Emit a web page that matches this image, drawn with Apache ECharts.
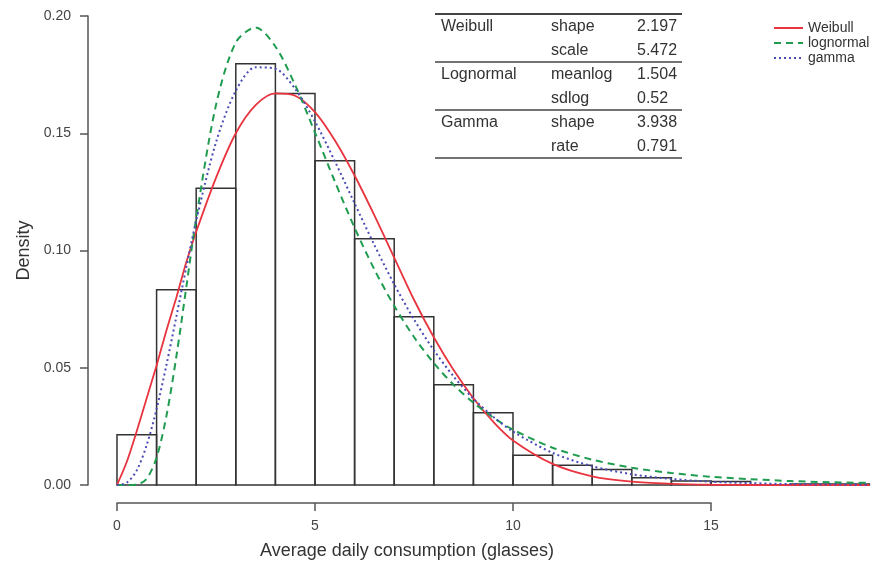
<!DOCTYPE html>
<html>
<head>
<meta charset="utf-8">
<title>Average daily consumption</title>
<script src="https://cdn.jsdelivr.net/npm/echarts@6.0.0/dist/echarts.min.js"></script>
<style>
    html, body { margin: 0; padding: 0; background: #fff; }
    #main { width: 871px; height: 565px; }
</style>
</head>
<body>
<div id="main"></div>
<script>
// histogram bins: [from, to, density]
var bins = [
    [0, 1, 0.0214], [1, 2, 0.0833], [2, 3, 0.1265], [3, 4, 0.1796],
    [4, 5, 0.1670], [5, 6, 0.1383], [6, 7, 0.1050], [7, 8, 0.0718],
    [8, 9, 0.0427], [9, 10, 0.0308], [10, 11, 0.0127], [11, 12, 0.0084],
    [12, 13, 0.0066], [13, 14, 0.0031], [14, 15, 0.0017], [15, 16, 0.0015],
    [16, 17, 0], [17, 18, 0.0004], [18, 19, 0.0004]
];

// fitted curves
var curveX = [0, 0.25, 0.5, 0.75, 1, 1.25, 1.5, 1.75, 2, 2.5, 3, 3.5, 4, 4.5, 5, 5.5, 6, 6.5, 7, 7.5,
    8, 8.5, 9, 9.5, 10, 11, 12, 13, 14, 15, 16, 17, 18, 19];
var weibullY = [0, 0.010, 0.023, 0.037, 0.051, 0.066, 0.080, 0.095, 0.108, 0.131, 0.150, 0.162, 0.167, 0.166,
    0.159, 0.147, 0.132, 0.115, 0.097, 0.079, 0.063, 0.049, 0.037, 0.027, 0.019, 0.009, 0.0037, 0.0014,
    0.0005, 0.0001, 0, 0, 0, 0];
var lognormalY = [0, 0, 0.0002, 0.0027, 0.0117, 0.0296, 0.0549, 0.0843, 0.1137, 0.162, 0.1887, 0.1951, 0.187,
    0.1705, 0.1503, 0.1295, 0.1097, 0.0919, 0.0764, 0.0631, 0.052, 0.0427, 0.0351, 0.0288, 0.0236, 0.0159,
    0.0108, 0.0074, 0.0051, 0.0035, 0.0025, 0.0017, 0.0012, 0.0009];
var gammaY = [0, 0.001, 0.0063, 0.017, 0.0324, 0.0513, 0.0719, 0.0928, 0.1127, 0.1461, 0.1681, 0.1781, 0.1775,
    0.1689, 0.155, 0.1381, 0.1201, 0.1023, 0.0856, 0.0706, 0.0575, 0.0463, 0.0368, 0.0291, 0.0228, 0.0137,
    0.008, 0.0046, 0.0026, 0.0014, 0.0008, 0.0004, 0.0002, 0.0001];

// parameter table
var tableRows = [
    ['Weibull', 'shape', '2.197'],
    ['', 'scale', '5.472'],
    ['Lognormal', 'meanlog', '1.504'],
    ['', 'sdlog', '0.52'],
    ['Gamma', 'shape', '3.938'],
    ['', 'rate', '0.791']
];

var legendNames = ['Weibull', 'lognormal', 'gamma'];

function pairs(xs, ys) {
    var res = [];
    for (var i = 0; i < xs.length; i++) res.push([xs[i], ys[i]]);
    return res;
}

var myChart = echarts.init(document.getElementById('main'), null, { renderer: 'canvas' });

var textColor = '#333';
var axisColor = '#555';
var font = 'Liberation Sans, Arial, sans-serif';

// table drawn as plain graphic text + rules
var graphics = [];
var rowTop = 27, rowStep = 24;
for (var r = 0; r < tableRows.length; r++) {
    var yy = rowTop + r * rowStep;
    graphics.push({ type: 'text', x: 441, y: yy, style: { text: tableRows[r][0], font: '16px ' + font, fill: textColor, textAlign: 'left', textVerticalAlign: 'middle' } });
    graphics.push({ type: 'text', x: 551, y: yy, style: { text: tableRows[r][1], font: '16px ' + font, fill: textColor, textAlign: 'left', textVerticalAlign: 'middle' } });
    graphics.push({ type: 'text', x: 637, y: yy, style: { text: tableRows[r][2], font: '16px ' + font, fill: textColor, textAlign: 'left', textVerticalAlign: 'middle' } });
}
var rules = [14, 62, 110, 158];
for (var k = 0; k < rules.length; k++) {
    graphics.push({ type: 'line', shape: { x1: 435, y1: rules[k], x2: 682, y2: rules[k] }, style: { stroke: '#444', lineWidth: k == 0 ? 2 : 1.5 } });
}
graphics.push({ type: 'text', x: 407, y: 551, style: { text: 'Average daily consumption (glasses)', font: '18px ' + font, fill: textColor, textAlign: 'center', textVerticalAlign: 'middle' } });

var option = {
    backgroundColor: '#fff',
    animation: false,
    textStyle: { fontFamily: font },
    legend: {
        data: legendNames,
        orient: 'vertical',
        left: 773,
        top: 21,
        padding: 0,
        itemWidth: 29,
        itemHeight: 14,
        itemGap: 1,
        itemStyle: { opacity: 0 },
        textStyle: { fontSize: 14, color: textColor }
    },
    grid: [
        { left: 88, right: 0, top: 16, bottom: 80 },
        { left: 117, width: 594, top: 502, height: 1 }
    ],
    xAxis: [
        { type: 'value', gridIndex: 0, min: -0.732, max: 19.04, show: false },
        {
            type: 'value', gridIndex: 1, min: 0, max: 15, interval: 5, position: 'bottom',
            axisLine: { show: true, onZero: false, lineStyle: { color: axisColor, width: 1.5 } },
            axisTick: { show: true, length: 8, lineStyle: { color: axisColor, width: 1.5 } },
            axisLabel: { color: '#444', fontSize: 14, margin: 16 },
            splitLine: { show: false }
        }
    ],
    yAxis: [
        {
            type: 'value', gridIndex: 0, min: 0, max: 0.2, interval: 0.05, position: 'left',
            name: 'Density', nameLocation: 'middle', nameGap: 55, nameRotate: 90, nameMoveOverlap: false,
            nameTextStyle: { fontSize: 18, color: textColor },
            axisLine: { show: true, onZero: false, lineStyle: { color: axisColor, width: 1.5 } },
            axisTick: { show: true, length: 8, lineStyle: { color: axisColor, width: 1.5 } },
            axisLabel: { color: '#444', fontSize: 14, margin: 17, formatter: function (v) { return v.toFixed(2); } },
            splitLine: { show: false }
        },
        { type: 'value', gridIndex: 1, show: false, min: 0, max: 1 }
    ],
    graphic: graphics,
    series: [
        {
            name: 'hist',
            type: 'custom',
            xAxisIndex: 0,
            yAxisIndex: 0,
            data: bins,
            renderItem: function (params, api) {
                var p0 = api.coord([api.value(0), api.value(2)]);
                var p1 = api.coord([api.value(1), 0]);
                return {
                    type: 'rect',
                    shape: { x: p0[0], y: p0[1], width: p1[0] - p0[0], height: p1[1] - p0[1] },
                    style: { fill: 'none', stroke: '#333', lineWidth: 1.5 }
                };
            },
            z: 1
        },
        {
            name: 'Weibull',
            type: 'line',
            smooth: 0.3,
            symbol: 'none',
            lineStyle: { color: '#e8343e', width: 1.8, type: 'solid' },
            itemStyle: { color: '#e8343e' },
            data: pairs(curveX, weibullY),
            z: 3
        },
        {
            name: 'lognormal',
            type: 'line',
            smooth: 0.3,
            symbol: 'none',
            lineStyle: { color: '#1f9c50', width: 2, type: [7, 5] },
            itemStyle: { color: '#1f9c50' },
            data: pairs(curveX, lognormalY),
            z: 3
        },
        {
            name: 'gamma',
            type: 'line',
            smooth: 0.3,
            symbol: 'none',
            lineStyle: { color: '#4a4cb4', width: 2, type: [2, 3] },
            itemStyle: { color: '#4a4cb4' },
            data: pairs(curveX, gammaY),
            z: 3
        }
    ]
};

myChart.setOption(option);
</script>
</body>
</html>
